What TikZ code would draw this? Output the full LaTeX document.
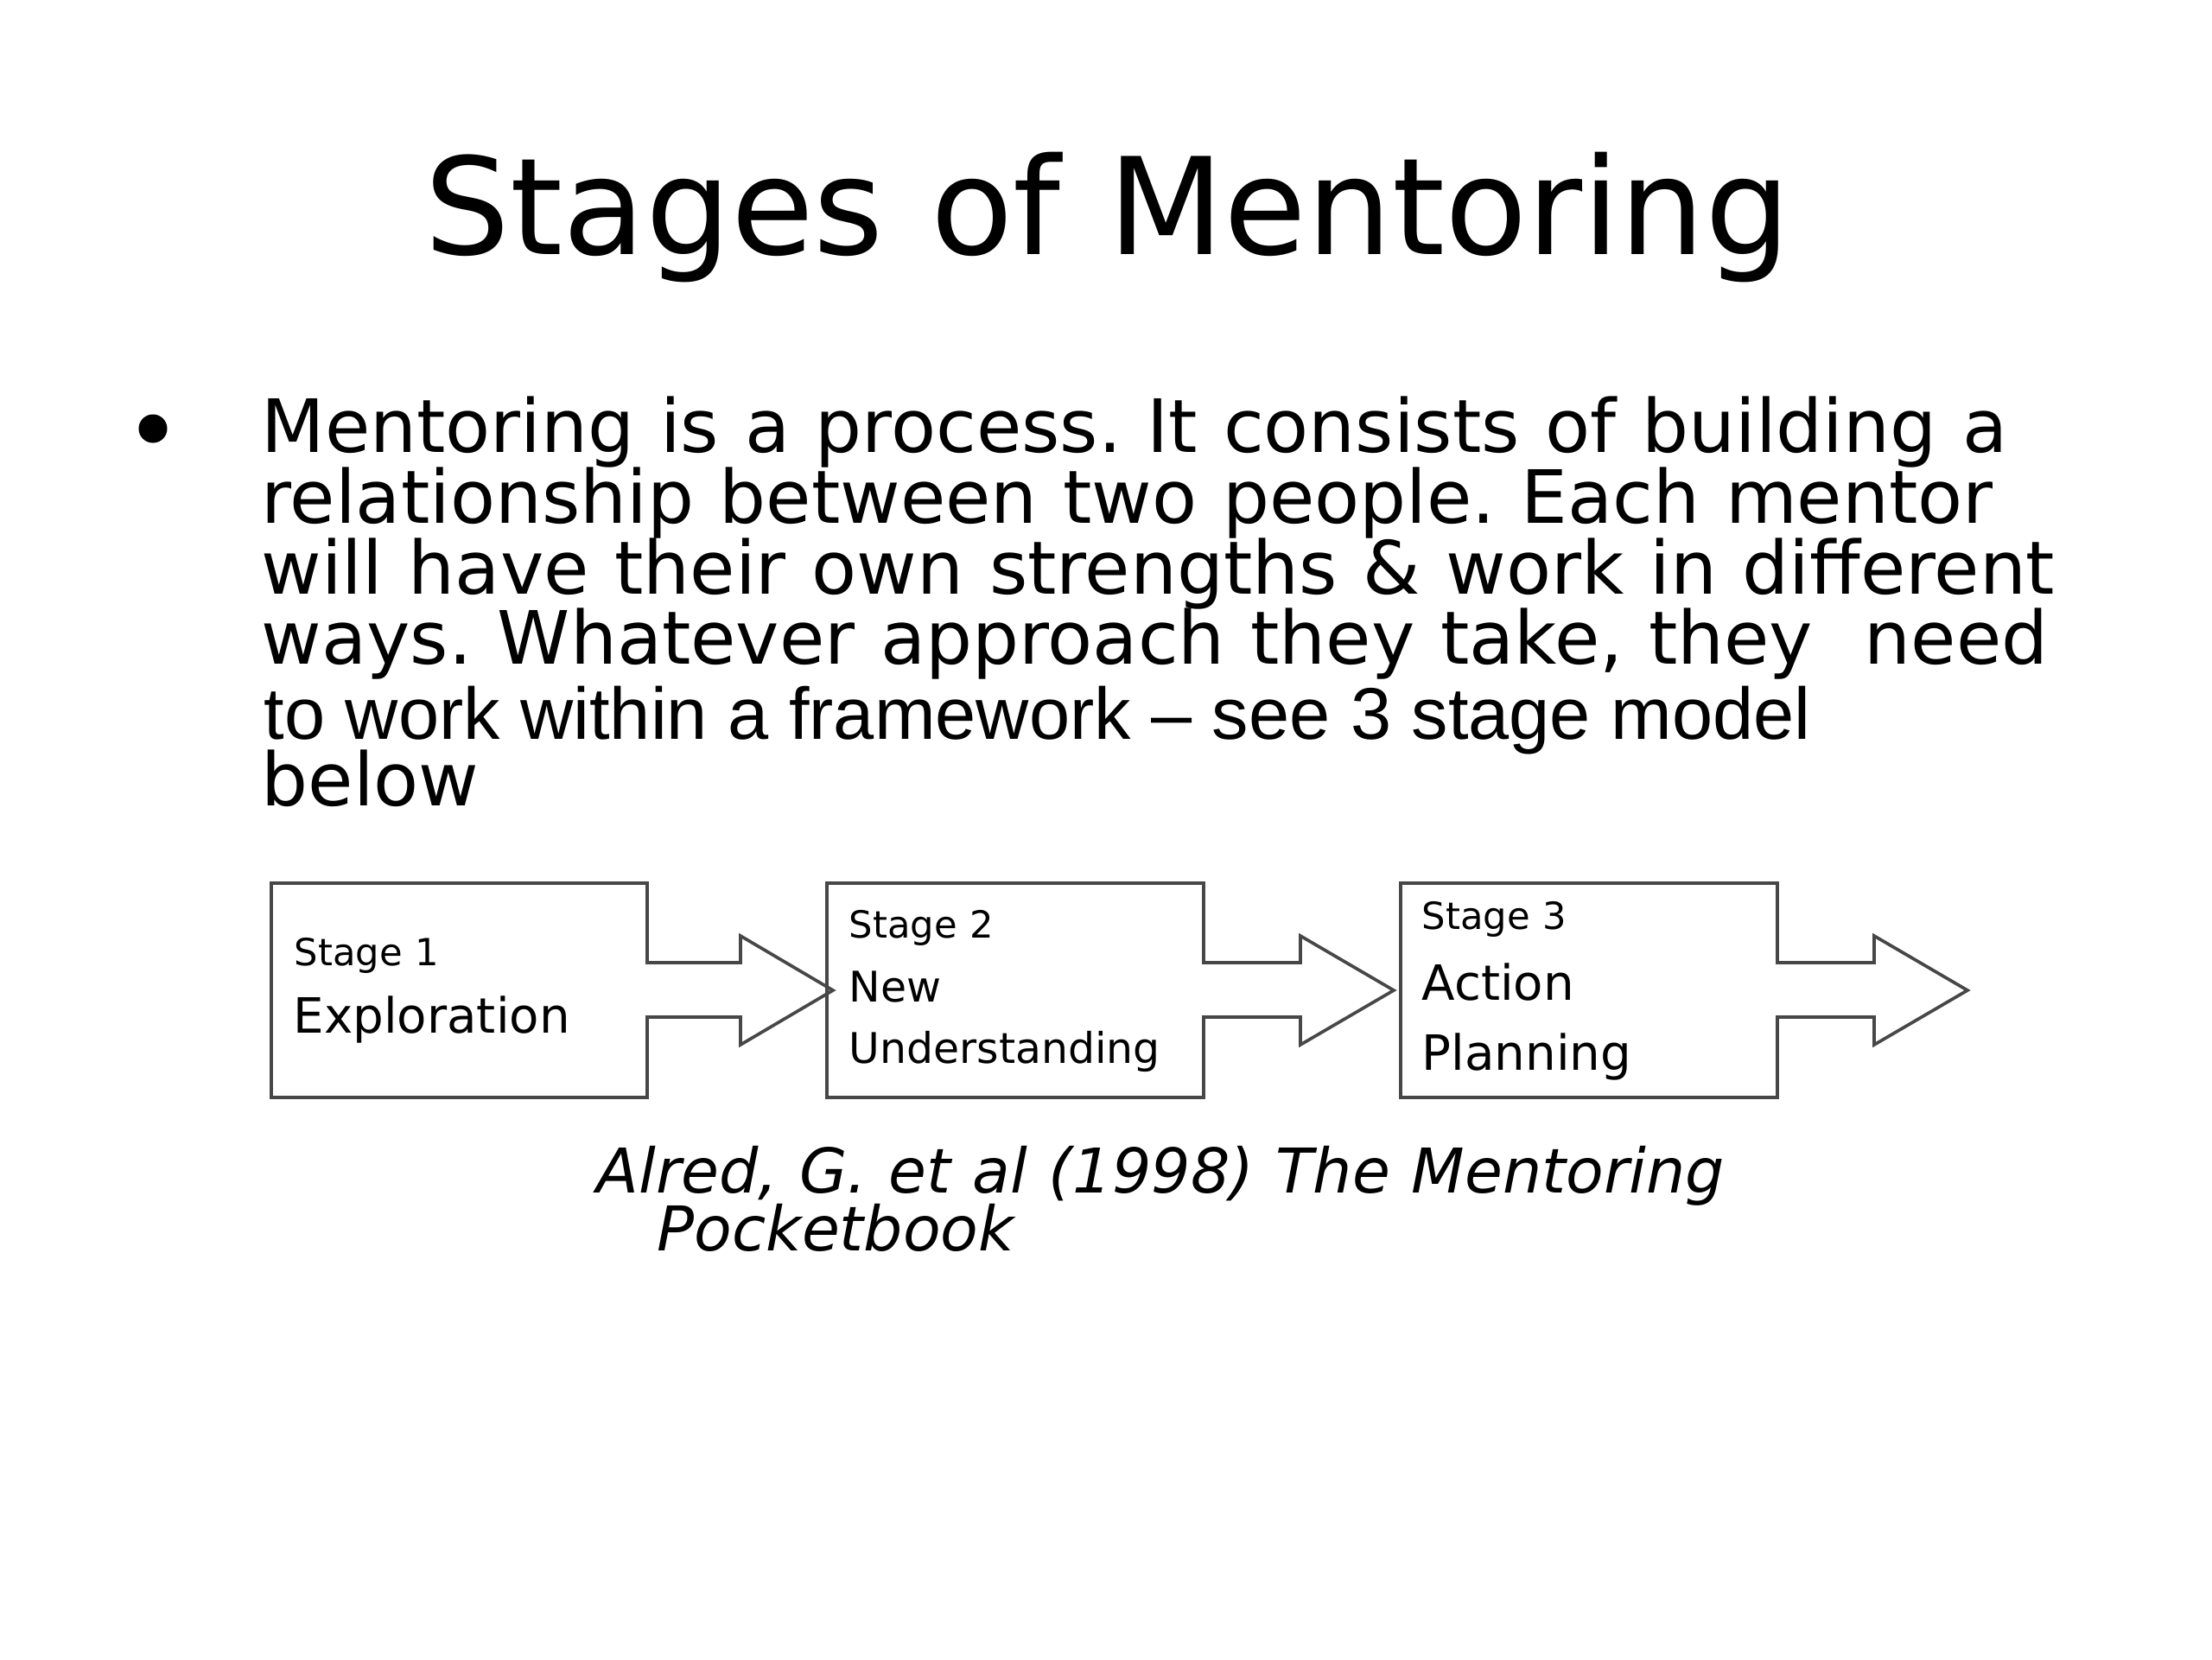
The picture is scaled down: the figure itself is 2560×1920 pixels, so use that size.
\documentclass[tikz,border=0pt]{standalone}
\usepackage{fontspec}
\setmainfont{DejaVu Sans}[WordSpace=1.1, ItalicFont={DejaVu Sans Oblique}]
\newfontfamily\arialfont{Liberation Sans}
\newcommand\bodyfnt{\fontsize{24.2}{25}\selectfont}
\newcommand\citefnt{\fontsize{20.3}{21}\selectfont\itshape}
\frenchspacing
\begin{document}
\begin{tikzpicture}[x=0.01cm,y=-0.01cm,
  txt/.style={inner sep=0pt, anchor=base west, text=black},
  stagebox/.style={draw=black!72, line width=1.05pt, line join=miter},
  small/.style={txt, font=\fontsize{12.3}{13}\selectfont},
  mid/.style={txt, font=\fontsize{13.9}{14}\selectfont},
  big/.style={txt, font=\fontsize{16}{17}\selectfont}]
\fill[white] (0,0) rectangle (2560,1920);
\useasboundingbox (0,0) rectangle (2560,1920);
% title
\node[inner sep=0pt, anchor=base, font=\fontsize{44.3}{50}\selectfont] (title) at (1282,294) {Stages of Mentoring};
% bullet and paragraph
\node[circle, fill=black, inner sep=0pt, minimum size=0.33cm] (bullet) at (177,496) {};
\node[txt, font=\bodyfnt] (l1) at (302,523) {Mentoring is a process. It consists of building a};
\node[txt, font=\bodyfnt] (l2) at (302,605) {relationship between two people. Each mentor};
\node[txt, font=\bodyfnt] (l3) at (302,687) {will have their own strengths \& work in different};
\node[txt, font=\bodyfnt] (l4) at (302,768) {ways. Whatever approach they take, they~~need};
\node[txt, font=\arialfont\fontsize{24.1}{25}\selectfont] (l5) at (305,855) {to work within a framework \textendash{} see 3 stage model};
\node[txt, font=\bodyfnt] (l6) at (302,932) {below};
% stage boxes with outgoing arrows
\foreach \L/\R/\S/\T in {314/749/108/215, 957/1393/112/220, 1621/2057/112/220}{
  \draw[stagebox] (\L,1022) -- (\R,1022) -- (\R,1114) -- ({\R+\S},1114)
    -- ({\R+\S},1083) -- ({\R+\T},1146) -- ({\R+\S},1209) -- ({\R+\S},1177)
    -- (\R,1177) -- (\R,1270) -- (\L,1270) -- cycle;
}
% stage texts
\node[small] (s1) at (340,1117) {Stage 1};
\node[big] (s1b) at (339,1195) {Exploration};
\node[small] (s2) at (982,1085) {Stage 2};
\node[mid] (s2b) at (982,1159) {New};
\node[mid] (s2c) at (982,1230) {Understanding};
\node[small] (s3) at (1645,1075) {Stage 3};
\node[big] (s3b) at (1645,1157) {Action};
\node[big] (s3c) at (1645,1238) {Planning};
% citation
\node[txt, font=\citefnt] (c1) at (690,1380) {Alred, G. et al (1998) The Mentoring};
\node[txt, font=\citefnt] (c2) at (760,1447) {Pocketbook};
\end{tikzpicture}
\end{document}
